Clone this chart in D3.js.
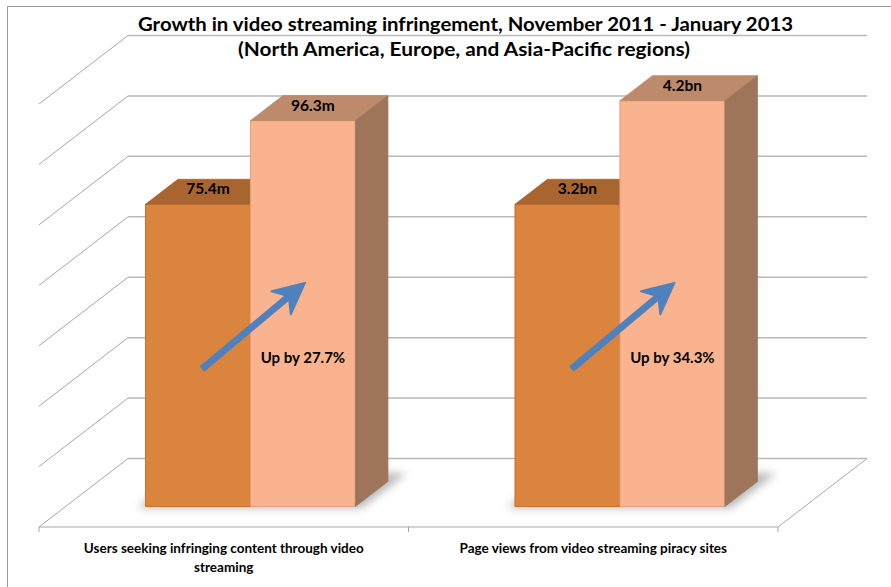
<!DOCTYPE html>
<html>
<head>
<meta charset="utf-8">
<title>Video streaming infringement</title>
<script src="https://d3js.org/d3.v7.min.js"></script>
<style>
  body { margin: 0; background: #fff; }
  text { font-family: Lato, "Open Sans", sans-serif; font-weight: bold; fill: #000; }
</style>
</head>
<body>
<script>
// data (bar heights are an index, first period = 100)
var categories = ["Users seeking infringing content through video streaming",
                  "Page views from video streaming piracy sites"];
var categoryLines = [["Users seeking infringing content through video", "streaming"],
                     ["Page views from video streaming piracy sites"]];
var series = ["November 2011", "January 2013"];
var index2011 = [100, 100];
var index2013 = [127.7, 134.3];
var labels2011 = ["75.4m", "3.2bn"];
var labels2013 = ["96.3m", "4.2bn"];
var growthLabels = ["Up by 27.7%", "Up by 34.3%"];
var yTicks = [0, 20, 40, 60, 80, 100, 120, 140];

var w = 891, h = 587;
var floorY = 527;
var depth = [89, -68.5];
var barFront = 0.30, barBack = 0.665;

var svg = d3.select("body").append("svg")
  .attr("width", w)
  .attr("height", h);

var defs = svg.append("defs");
defs.append("filter").attr("id", "shadow")
  .attr("x", "-20%").attr("y", "-50%").attr("width", "140%").attr("height", "200%")
  .append("feGaussianBlur").attr("stdDeviation", 4);

var x = d3.scaleBand().domain(categories).range([39, 778]);
var xs = d3.scaleBand().domain(series).range([0, x.bandwidth()]).paddingOuter(0.76);
var y = d3.scaleLinear().domain([0, 140]).range([0, 423]);

// oblique projection: front x, value, depth fraction
function P(px, v, d) {
  return [px + d * depth[0], floorY - y(v) + d * depth[1]];
}
function poly(pts) { return pts.map(function(p){ return p.join(","); }).join(" "); }

// chart border (only top and left show in the crop)
svg.append("line").attr("x1", 7.5).attr("y1", 6.5).attr("x2", w).attr("y2", 6.5)
  .attr("stroke", "#9a9a9a").attr("stroke-width", 1);
svg.append("line").attr("x1", 7.5).attr("y1", 6.5).attr("x2", 7.5).attr("y2", h)
  .attr("stroke", "#9a9a9a").attr("stroke-width", 1);

var x0 = x.range()[0], x1 = x.range()[1];

// back wall gridlines
svg.selectAll(".grid").data(yTicks).enter().append("line")
  .attr("class", "grid")
  .attr("x1", function(d){ return P(x0, d, 1)[0]; })
  .attr("y1", function(d){ return P(x0, d, 1)[1]; })
  .attr("x2", function(d){ return P(x1, d, 1)[0]; })
  .attr("y2", function(d){ return P(x1, d, 1)[1]; })
  .attr("stroke", "#b8b8b8").attr("stroke-width", 1.5);

// side wall diagonals
svg.selectAll(".diag").data(yTicks).enter().append("line")
  .attr("class", "diag")
  .attr("x1", function(d){ return P(x0, d, 1)[0]; })
  .attr("y1", function(d){ return P(x0, d, 1)[1]; })
  .attr("x2", function(d){ return P(x0, d, 0)[0]; })
  .attr("y2", function(d){ return P(x0, d, 0)[1]; })
  .attr("stroke", "#a6a6a6").attr("stroke-width", 1);

// floor edges
svg.append("line")
  .attr("x1", x0).attr("y1", floorY).attr("x2", x1).attr("y2", floorY)
  .attr("stroke", "#a6a6a6").attr("stroke-width", 1.2);
svg.append("line")
  .attr("x1", P(x1, 0, 0)[0]).attr("y1", P(x1, 0, 0)[1])
  .attr("x2", P(x1, 0, 1)[0]).attr("y2", P(x1, 0, 1)[1])
  .attr("stroke", "#a6a6a6").attr("stroke-width", 1);
var tickXs = [x0].concat(categories.map(function(c){ return x(c) + x.bandwidth(); }));
svg.selectAll(".tick").data(tickXs).enter().append("line")
  .attr("x1", function(d){ return d; }).attr("x2", function(d){ return d; })
  .attr("y1", floorY).attr("y2", floorY + 5)
  .attr("stroke", "#a6a6a6").attr("stroke-width", 1);

// bars
var bars = [];
categories.forEach(function(c, i) {
  bars.push({cat: c, s: series[0], v: index2011[i], label: labels2011[i],
             front: "#da843e", top: "#a96530", side: "#9e6a45", edge: "#c2722f"});
  bars.push({cat: c, s: series[1], v: index2013[i], label: labels2013[i],
             front: "#f9b48f", top: "#bd8a6c", side: "#9e745a", edge: "#e4a07c"});
});

// soft shadow under each group
categories.forEach(function(c) {
  var l = x(c) + xs(series[0]) - 6, r = x(c) + xs(series[1]) + xs.bandwidth() + 8;
  svg.append("polygon")
    .attr("points", poly([P(l, 0, barFront - 0.02), P(r, 0, barFront - 0.02),
                          P(r, 0, barBack + 0.12), P(l, 0, barBack + 0.12)]))
    .attr("fill", "#7a7a7a").attr("opacity", 0.55)
    .attr("filter", "url(#shadow)");
});

var g = svg.selectAll(".bar").data(bars).enter().append("g").attr("class", "bar");
g.append("polygon")
  .attr("points", function(d){
    var l = x(d.cat) + xs(d.s), r = l + xs.bandwidth();
    return poly([P(l, 0, barFront), P(r, 0, barFront), P(r, d.v, barFront), P(l, d.v, barFront)]);
  })
  .attr("fill", function(d){ return d.front; })
  .attr("stroke", function(d){ return d.edge; }).attr("stroke-width", 1);
g.append("polygon")
  .attr("points", function(d){
    var l = x(d.cat) + xs(d.s), r = l + xs.bandwidth();
    return poly([P(l, d.v, barFront), P(r, d.v, barFront), P(r, d.v, barBack), P(l, d.v, barBack)]);
  })
  .attr("fill", function(d){ return d.top; })
  .attr("stroke", function(d){ return d.top; }).attr("stroke-width", 0.8);
g.append("polygon")
  .attr("points", function(d){
    var r = x(d.cat) + xs(d.s) + xs.bandwidth();
    return poly([P(r, 0, barFront), P(r, 0, barBack), P(r, d.v, barBack), P(r, d.v, barFront)]);
  })
  .attr("fill", function(d){ return d.side; })
  .attr("stroke", function(d){ return d.side; }).attr("stroke-width", 0.8);

// value labels on the top faces
g.append("text")
  .attr("x", function(d){ return x(d.cat) + xs(d.s) + xs.bandwidth() / 2 + 10 + barFront * depth[0]; })
  .attr("y", function(d){ return P(0, d.v, barFront)[1] - 10; })
  .attr("text-anchor", "middle")
  .style("font-size", "15.5px")
  .text(function(d){ return d.label; });

// growth arrows and notes
categories.forEach(function(c, i) {
  var t = P(x(c) + xs(series[0]) + xs.bandwidth() / 2 + 4, 45.5, barFront);
  var hd = P(x(c) + xs(series[1]) + xs.bandwidth() / 2 + 2, 74, barFront);
  var dx = hd[0] - t[0], dy = hd[1] - t[1], len = Math.sqrt(dx * dx + dy * dy);
  var u = [dx / len, dy / len], n = [-u[1], u[0]];
  var notch = [hd[0] - 21 * u[0], hd[1] - 21 * u[1]];
  svg.append("line")
    .attr("x1", t[0]).attr("y1", t[1]).attr("x2", notch[0]).attr("y2", notch[1])
    .attr("stroke", "#4f81bd").attr("stroke-width", 7);
  svg.append("polygon")
    .attr("points", poly([hd,
      [hd[0] - 31 * u[0] + 15 * n[0], hd[1] - 31 * u[1] + 15 * n[1]],
      notch,
      [hd[0] - 31 * u[0] - 15 * n[0], hd[1] - 31 * u[1] - 15 * n[1]]]))
    .attr("fill", "#4f81bd").attr("stroke", "#4f81bd")
    .attr("stroke-width", 2).attr("stroke-linejoin", "round");
  svg.append("text")
    .attr("x", x(c) + xs(series[1]) + xs.bandwidth() / 2 + barFront * depth[0])
    .attr("y", P(0, 47.5, barFront)[1])
    .attr("text-anchor", "middle")
    .style("font-size", "15px")
    .text(growthLabels[i]);
});

// category labels
categoryLines.forEach(function(lines, i) {
  var cx = x(categories[i]) + x.bandwidth() / 2;
  lines.forEach(function(s, j) {
    svg.append("text")
      .attr("x", cx).attr("y", 553 + j * 19)
      .attr("text-anchor", "middle")
      .style("font-size", "13.5px")
      .text(s);
  });
});

// title
svg.append("text").attr("x", 465.5).attr("y", 31)
  .attr("text-anchor", "middle").style("font-size", "19px")
  .attr("textLength", 655).attr("lengthAdjust", "spacingAndGlyphs")
  .text("Growth in video streaming infringement, November 2011 - January 2013");
svg.append("text").attr("x", 464).attr("y", 56)
  .attr("text-anchor", "middle").style("font-size", "19px")
  .attr("textLength", 452).attr("lengthAdjust", "spacingAndGlyphs")
  .text("(North America, Europe, and Asia-Pacific regions)");
</script>
</body>
</html>
